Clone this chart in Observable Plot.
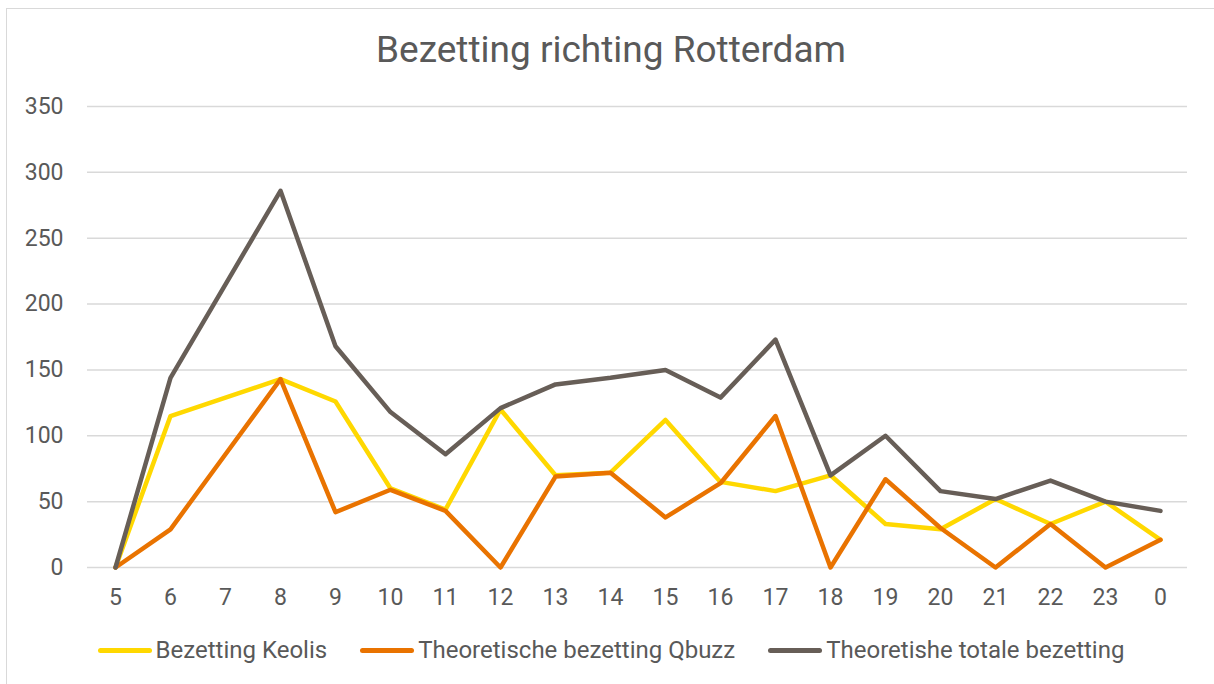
<!DOCTYPE html>
<html>
<head>
<meta charset="utf-8">
<script src="https://cdn.jsdelivr.net/npm/d3@7"></script>
<script src="https://cdn.jsdelivr.net/npm/@observablehq/plot@0.6"></script>
<style>
  body { margin: 0; background: #fff; font-family: Roboto, "Noto Sans", sans-serif; }
  #wrap { position: relative; width: 1214px; height: 684px; overflow: hidden; background: #fff; }
  #frame { position: absolute; left: 6px; top: 8px; width: 1300px; height: 800px; border: 1.5px solid #d9d9d9; box-sizing: border-box; pointer-events: none; }
  #title { position: relative; height: 90px; width: 1210px; margin-left: 6px; text-align: center; font-size: 37px; color: #595959; line-height: 1; padding-top: 31px; box-sizing: border-box; }
  #chart svg { display: block; }
  #legend { display: flex; justify-content: center; align-items: center; gap: 33px; margin-left: 8px; height: 60px; font-size: 24px; color: #595959; }
  .item { display: flex; align-items: center; }
  .sw { width: 54px; height: 5px; border-radius: 3px; margin-right: 4px; }
</style>
</head>
<body>
<div id="wrap">
  <div id="frame"></div>
  <div id="title">Bezetting richting Rotterdam</div>
  <div id="chart"></div>
  <div id="legend"></div>
</div>
<script>
const hours = ["5","6","7","8","9","10","11","12","13","14","15","16","17","18","19","20","21","22","23","0"];
const keolis = [0,115,129,143,126,60,44,120,70,72,112,65,58,70,33,29,52,33,50,21];
const qbuzz  = [0,29,86,143,42,59,43,0,69,72,38,64,115,0,67,30,0,33,0,21];
const totaal = [0,144,215,286,168,118,86,121,139,144,150,129,173,70,100,58,52,66,50,43];
const seriesNames = ["Bezetting Keolis","Theoretische bezetting Qbuzz","Theoretishe totale bezetting"];
const seriesColors = ["#FFD800","#E97300","#675E57"];
const yTicks = [0,50,100,150,200,250,300,350];

const allSeries = [keolis, qbuzz, totaal];
const data = [];
allSeries.forEach((vals, si) => vals.forEach((v, i) => data.push({hour: hours[i], value: v, series: seriesNames[si]})));

const plot = Plot.plot({
  width: 1214,
  height: 530,
  marginLeft: 87,
  marginRight: 27,
  marginTop: 16,
  marginBottom: 53,
  style: { fontFamily: "Roboto, sans-serif", fontSize: "23px", color: "#595959", background: "transparent" },
  x: { type: "point", domain: hours, padding: 0.5, label: null },
  y: { domain: [0, 350], label: null },
  color: { domain: seriesNames, range: seriesColors },
  marks: [
    Plot.gridY(yTicks, { stroke: "#d9d9d9", strokeOpacity: 1, strokeWidth: 1.5 }),
    Plot.axisY(yTicks, { tickSize: 0, tickPadding: 24, fill: "#595959", fontSize: 23, label: null }),
    Plot.axisX(hours, { tickSize: 0, tickPadding: 21, fill: "#595959", fontSize: 23, label: null }),
    Plot.line(data, { x: "hour", y: "value", z: "series", stroke: "series", strokeWidth: 4.5, strokeLinejoin: "round", strokeLinecap: "round" })
  ]
});
document.getElementById("chart").appendChild(plot);

const legend = document.getElementById("legend");
seriesNames.forEach((n, i) => {
  const it = document.createElement("div");
  it.className = "item";
  const sw = document.createElement("div");
  sw.className = "sw";
  sw.style.background = seriesColors[i];
  const t = document.createElement("span");
  t.textContent = n;
  it.appendChild(sw); it.appendChild(t);
  legend.appendChild(it);
});
</script>
</body>
</html>
